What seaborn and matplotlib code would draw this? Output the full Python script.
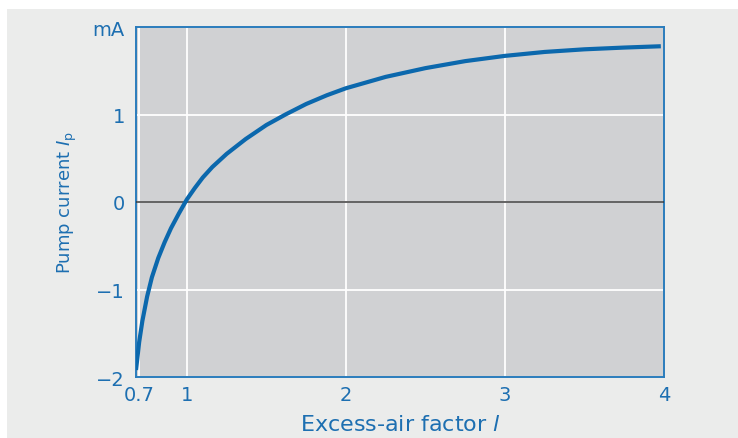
import matplotlib
matplotlib.use("Agg")
import matplotlib.pyplot as plt
from matplotlib.patches import Rectangle
import seaborn as sns
import pandas as pd

# excess-air factor (lambda) and pump current Ip in mA
lam = [0.68, 0.70, 0.72, 0.75, 0.78, 0.82, 0.86, 0.90, 0.95, 1.00, 1.05,
       1.10, 1.16, 1.25, 1.37, 1.50, 1.62, 1.75, 1.88, 2.00, 2.25, 2.50,
       2.75, 3.00, 3.25, 3.50, 3.75, 3.98]
pump_current = [-1.92, -1.60, -1.36, -1.08, -0.86, -0.64, -0.46, -0.30, -0.13,
                0.03, 0.16, 0.28, 0.40, 0.55, 0.72, 0.88, 1.00, 1.12, 1.22,
                1.30, 1.43, 1.53, 1.61, 1.67, 1.715, 1.745, 1.765, 1.78]

x_ticks = [0.7, 1, 2, 3, 4]
x_tick_labels = ["0.7", "1", "2", "3", "4"]
y_ticks = [-2, -1, 0, 1, 2]
y_tick_labels = ["\u22122", "\u22121", "0", "1", "mA"]

blue = "#0b68ad"
text_blue = "#1d6fb1"

sns.set_theme(style="whitegrid")
plt.rcParams["font.family"] = ["DejaVu Sans"]
plt.rcParams["mathtext.fontset"] = "dejavusans"

df = pd.DataFrame({"lam": lam, "ip": pump_current})

fig = plt.figure(figsize=(7.38, 4.39), dpi=100)
fig.patch.set_facecolor("white")
fig.patches.append(Rectangle((7 / 738, 0), 1, 1 - 10 / 439, transform=fig.transFigure,
                             facecolor="#ebeceb", edgecolor="none", zorder=-10))

ax = fig.add_axes([136 / 738, 1 - 378 / 439, (664 - 136) / 738, (378 - 28) / 439])
ax.set_facecolor("#d0d1d3")

sns.lineplot(data=df, x="lam", y="ip", ax=ax, color=blue, linewidth=3.0,
             solid_capstyle="butt", zorder=4)
ax.axhline(0, color="#3a3a3a", linewidth=1.1, zorder=3)

ax.set_xlim(0.68, 3.98)
ax.set_ylim(-2, 2)
ax.set_xticks(x_ticks)
ax.set_xticklabels(x_tick_labels)
ax.set_yticks(y_ticks)
ax.set_yticklabels(y_tick_labels)
ax.grid(True, color="white", linewidth=1.3)
ax.tick_params(axis="both", length=0, labelsize=14, labelcolor=text_blue)
ax.tick_params(axis="x", pad=6)
ax.tick_params(axis="y", pad=8)

for s in ax.spines.values():
    s.set_color("#2a7cbc")
    s.set_linewidth(1.4)
    s.set_visible(True)

ax.set_xlabel(r"Excess-air factor $\mathit{l}$", fontsize=16, color=text_blue, labelpad=7)
ax.set_ylabel(r"Pump current $I_\mathrm{p}$", fontsize=13, color=text_blue, labelpad=10)

fig.savefig("out.png", dpi=100, facecolor=fig.get_facecolor())
